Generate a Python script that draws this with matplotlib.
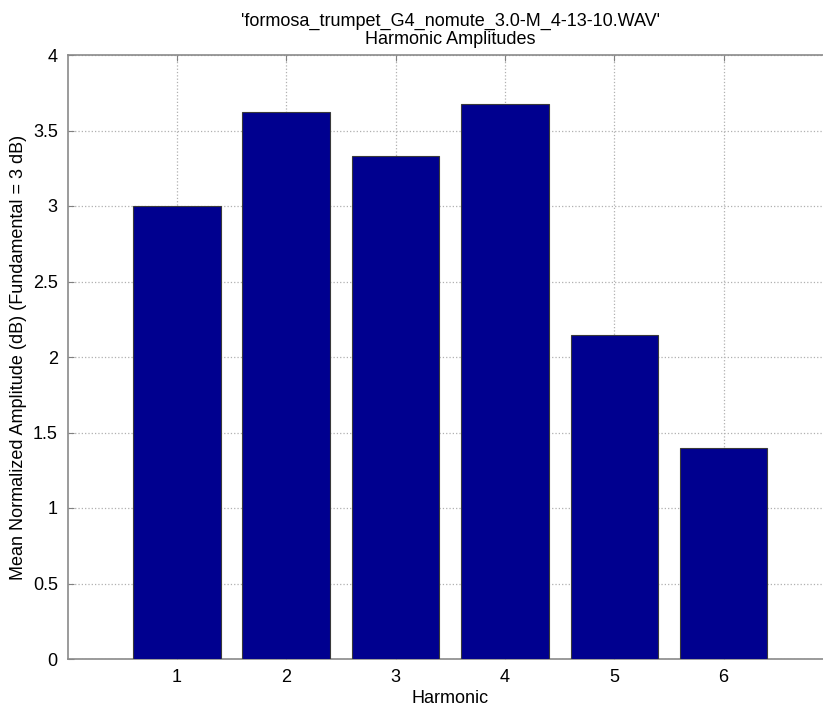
import matplotlib
matplotlib.use('Agg')
import matplotlib.pyplot as plt

# harmonic amplitudes
harmonics = [1, 2, 3, 4, 5, 6]
amplitudes = [3.00, 3.624, 3.329, 3.677, 2.146, 1.40]
yticks = [0, 0.5, 1, 1.5, 2, 2.5, 3, 3.5, 4]

plt.rcParams['font.family'] = ['Liberation Sans', 'DejaVu Sans']

fig = plt.figure(figsize=(8.23, 7.11), dpi=100)
W, H = 823.0, 711.0
ax = fig.add_axes([67.5 / W, 52 / H, 765.5 / W, 604 / H])

ax.bar(harmonics, amplitudes, width=0.8, color='#00008f',
       edgecolor='#3a3a3a', linewidth=0.8, zorder=3)

ax.set_xlim(0, 7)
ax.set_ylim(0, 4)
ax.set_xticks(harmonics)
ax.set_yticks(yticks)
ax.set_yticklabels(['0', '0.5', '1', '1.5', '2', '2.5', '3', '3.5', '4'])
ax.grid(True, linestyle=':', color='#b0b0b0', linewidth=0.9, zorder=0)
ax.tick_params(direction='in', length=4, color='#808080', labelsize=13,
               top=True, right=True, pad=7)
for s in ax.spines.values():
    s.set_color('#8a8a8a')
    s.set_linewidth(1.2)

ax.set_xlabel('Harmonic', fontsize=13, labelpad=3)
ax.set_ylabel('Mean Normalized Amplitude (dB) (Fundamental = 3 dB)', fontsize=13, labelpad=4)
ax.set_title("'formosa_trumpet_G4_nomute_3.0-M_4-13-10.WAV'\nHarmonic Amplitudes",
             fontsize=13, pad=8, linespacing=1.05)

fig.savefig('out.png', dpi=100)
